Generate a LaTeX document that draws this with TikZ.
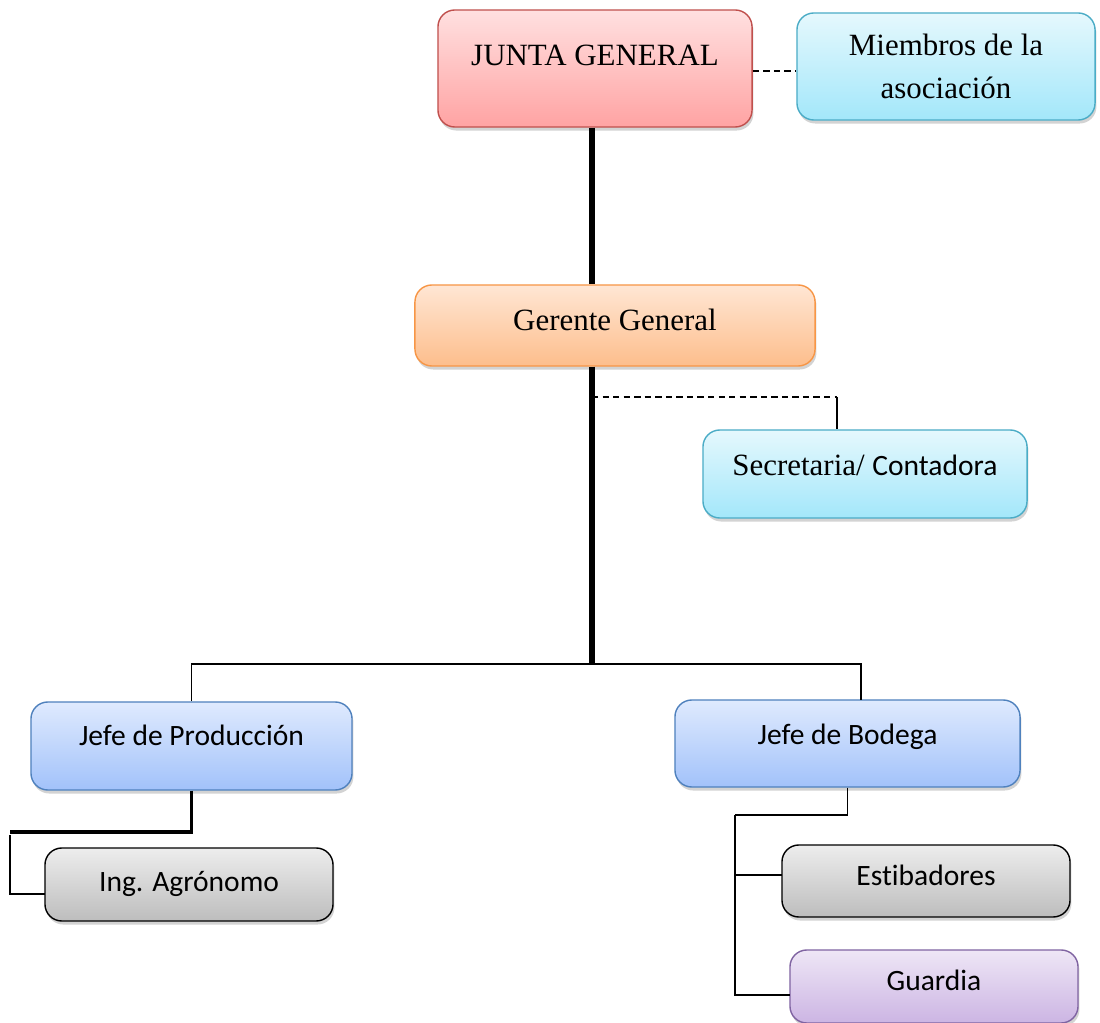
\documentclass[tikz,border=0pt]{standalone}
\usepackage{fontspec}
\setmainfont{Liberation Serif}
\newfontfamily\calibri[Ligatures=NoCommon]{Carlito}
\usepackage{xcolor}
\usepackage{tikz}
\usetikzlibrary{shadows}

\definecolor{juntatop}{HTML}{FFE0E0}
\definecolor{juntabot}{HTML}{FFA3A3}
\definecolor{juntaline}{HTML}{C0504D}
\definecolor{cyantop}{HTML}{E5F8FD}
\definecolor{cyanbot}{HTML}{A3E7FA}
\definecolor{cyanline}{HTML}{4BACC6}
\definecolor{orangetop}{HTML}{FFE6D4}
\definecolor{orangebot}{HTML}{FDBE8C}
\definecolor{orangeline}{HTML}{F79646}
\definecolor{bluetop}{HTML}{DFEAFE}
\definecolor{bluebot}{HTML}{A2C2FA}
\definecolor{blueline}{HTML}{4F81BD}
\definecolor{graytop}{HTML}{EDEDED}
\definecolor{graybot}{HTML}{BDBDBD}
\definecolor{violettop}{HTML}{EEE6F6}
\definecolor{violetbot}{HTML}{CCB5E3}
\definecolor{violetline}{HTML}{8064A2}

\begin{document}
\begin{tikzpicture}[x=0.025cm, y=-0.025cm,
  box/.style={draw, rectangle, rounded corners=12pt, line width=1pt, align=center, drop shadow={shadow xshift=1pt, shadow yshift=-2.5pt, opacity=0.35}},
  lift/.style={text height=14pt, text depth=#1},
  serif/.style={font=\fontsize{22}{30.5}\selectfont},
  sans/.style={font=\calibri\fontsize{21}{24}\selectfont},
  junta/.style={box, top color=juntatop, bottom color=juntabot, draw=juntaline},
  socio/.style={box, top color=cyantop, bottom color=cyanbot, draw=cyanline},
  gerencia/.style={box, top color=orangetop, bottom color=orangebot, draw=orangeline},
  jefe/.style={box, top color=bluetop, bottom color=bluebot, draw=blueline},
  obrero/.style={box, top color=graytop, bottom color=graybot, draw=black},
  vigia/.style={box, top color=violettop, bottom color=violetbot, draw=violetline},
  mando/.style={line width=4.3pt},
  rama/.style={line width=1pt},
  apoyo/.style={line width=1.2pt, dash pattern=on 4.5pt off 3pt}]

\useasboundingbox (0,0) rectangle (1100,1023);

\node [junta, serif, lift=18.6pt, minimum width=7.85cm, minimum height=2.925cm] (jg) at (595,68.5) {JUNTA GENERAL};

\node [socio, serif, minimum width=7.45cm, minimum height=2.675cm] (miembros) at (946,66.5) {Miembros de la\\asociación};

\node [gerencia, serif, lift=6.4pt, minimum width=10cm, minimum height=2.025cm] (gg) at (615,325.5) {Gerente General};

\node [socio, serif, lift=11.4pt, minimum width=8.1cm, minimum height=2.2cm] (secre) at (865,474) {Secretaria/ {\calibri\fontsize{21}{24}\selectfont Contadora}};

\node [jefe, sans, lift=15pt, minimum width=8.025cm, minimum height=2.2cm] (prod) at (191.5,746) {Jefe de Producción};

\node [jefe, sans, lift=12.2pt, minimum width=8.625cm, minimum height=2.175cm] (bodega) at (847.5,743.5) {Jefe de Bodega};

\node [obrero, sans, lift=3.6pt, minimum width=7.2cm, minimum height=1.825cm] (ing) at (189,884.5) {Ing. Agrónomo};

\node [obrero, sans, lift=7.8pt, minimum width=7.2cm, minimum height=1.8cm] (estib) at (926,881) {Estibadores};

\node [vigia, sans, lift=7.8pt, minimum width=7.2cm, minimum height=1.825cm] (guardia) at (934,986.5) {Guardia};

\coordinate (eje) at (592,664);
\coordinate (desvio) at (592,397);
\coordinate (codo) at (837,397);
\coordinate (bodtop) at (861,700);
\coordinate (prodcodo) at (10,832);
\coordinate (ingjunta) at (45,894);
\coordinate (bodcodo) at (735,815);
\coordinate (estjunta) at (782,875);
\coordinate (guajunta) at (790,995);

\draw[apoyo] ([yshift=-2pt]jg.east) -- ([yshift=-2pt]jg.east -| miembros.west);
\draw[mando] (jg.south -| eje) -- (gg.north -| eje);
\draw[mando] (gg.south -| eje) -- (eje);
\draw[apoyo] (desvio) -- (codo);
\draw[rama] (codo) -- (codo |- secre.north);
\draw[rama] (prod.north) |- (eje);
\draw[rama] (eje) -| (bodtop);
\draw[line width=2.2pt] (prod.south) |- (prodcodo);
\draw[rama] ([yshift=-2pt]prodcodo) |- (ingjunta);
\draw[rama] (bodega.south) |- (bodcodo);
\draw[rama] (bodcodo) |- (guajunta);
\draw[rama] (bodcodo |- estjunta) -- (estjunta);

\end{tikzpicture}
\end{document}
